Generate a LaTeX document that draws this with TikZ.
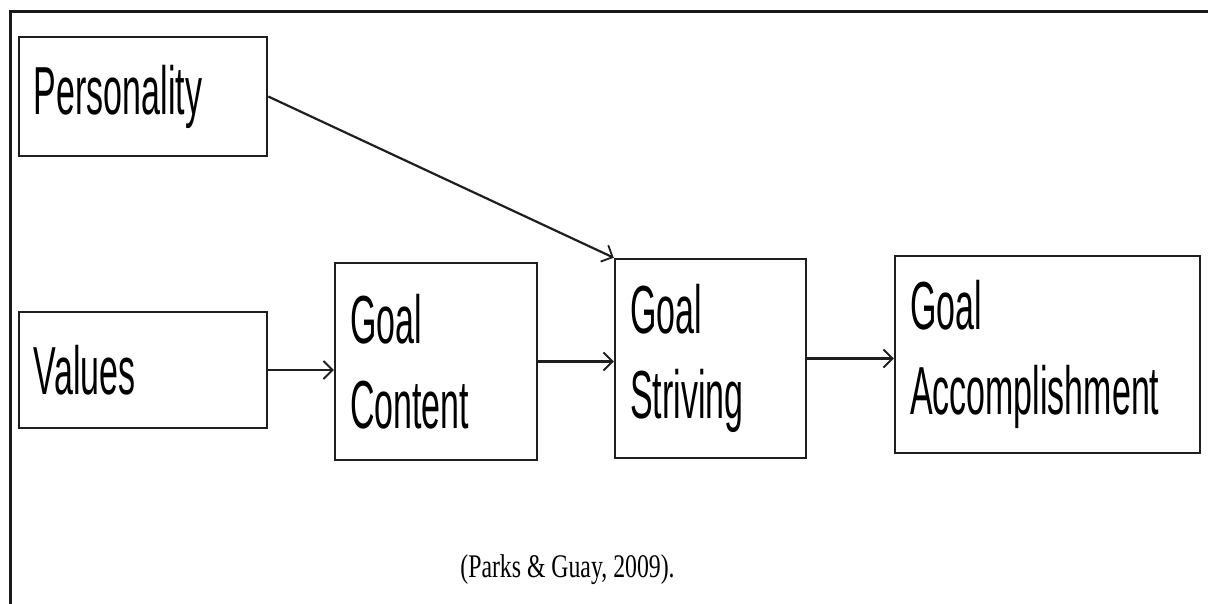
\documentclass[tikz,border=0pt]{standalone}
\usepackage{fontspec}
\usetikzlibrary{arrows.meta}
\newfontfamily\boxfont[FakeStretch=0.5]{Liberation Sans}
\newfontfamily\citefont[FakeStretch=0.72]{Liberation Serif}
\begin{document}
\begin{tikzpicture}[x=1pt,y=-1pt,
  box/.style={draw=black!88, line width=2.5pt, rectangle, inner xsep=15pt, inner ysep=0pt,
    align=left, font=\boxfont\fontsize{68}{85}\selectfont},
  conn/.style={line width=2.2pt, draw=black!88,
    -{Straight Barb[length=9pt,width=18pt,line width=1.8pt]}},
  frameline/.style={line width=3pt, draw=black!90}]
\useasboundingbox (0,0) rectangle (1208,604);
\draw[frameline] (10,604) -- (10,12) -- (1208,12);

\node[box, text width=218pt, minimum height=119pt] (pers) at (143,96.5) {Personality};
\node[box, text width=218pt, minimum height=116pt] (val) at (143,370) {Values};
\node[box, text width=172pt, minimum height=197pt] (cont) at (436,361.5) {Goal\\Content};
\node[box, text width=161pt, minimum height=199pt] (striv) at (710.5,358.5) {Goal\\Striving};
\node[box, text width=275pt, minimum height=197pt] (acc) at (1047.5,354.5) {Goal\\Accomplishment};

\draw[conn] (pers.east) -- (striv.north west);
\draw[conn] (val.east) -- (cont.west |- val.east);
\draw[conn] (cont.east) -- (striv.west |- cont.east);
\draw[conn] (striv.east) -- (acc.west |- striv.east);

\node[anchor=base, inner sep=0pt, font=\citefont\fontsize{33}{40}\selectfont] (cite) at (567.5,577) {(Parks \& Guay, 2009).};
\end{tikzpicture}
\end{document}
